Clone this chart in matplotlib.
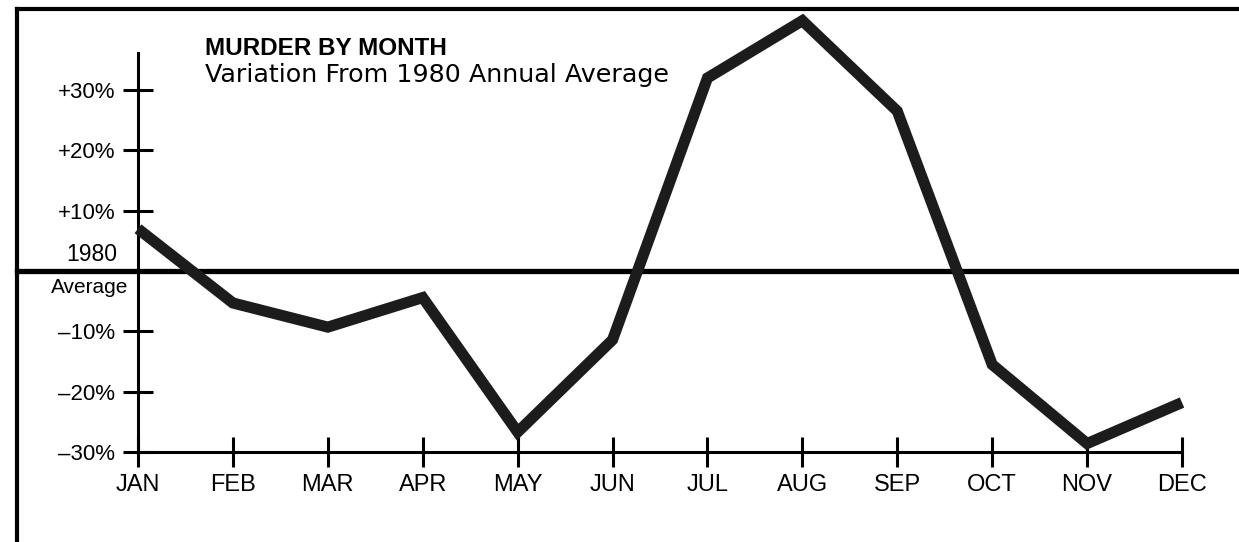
import matplotlib.pyplot as plt
from matplotlib.lines import Line2D

# data (% variation from 1980 annual average)
months = ['JAN', 'FEB', 'MAR', 'APR', 'MAY', 'JUN', 'JUL', 'AUG', 'SEP', 'OCT', 'NOV', 'DEC']
variation = [7, -5.3, -9.3, -4.4, -26.7, -11.4, 32, 41.5, 26.5, -15.5, -28.6, -21.8]
ytick_values = [-30, -20, -10, 10, 20, 30]
ytick_labels = ['\u201330%', '\u201320%', '\u201310%', '+10%', '+20%', '+30%']

plt.rcParams['font.family'] = ['Liberation Sans', 'DejaVu Sans']

fig = plt.figure(figsize=(12.39, 5.42), dpi=100)
ax = fig.add_axes([0.11138, 0.16605, 0.84262, 0.73616])
ax.set_xlim(0, len(months) - 1)
ax.set_ylim(-30, 36.14)
ax.patch.set_alpha(0)

for s in ['top', 'right']:
    ax.spines[s].set_visible(False)
for s in ['left', 'bottom']:
    ax.spines[s].set_linewidth(2.2)
    ax.spines[s].set_capstyle('projecting')

ax.set_xticks(range(len(months)))
ax.set_xticklabels(months, fontsize=17)
ax.set_yticks(ytick_values)
ax.set_yticklabels(ytick_labels, fontsize=16)
ax.tick_params(axis='both', direction='inout', length=21, width=2.2)
ax.tick_params(axis='y', pad=6)
ax.tick_params(axis='x', pad=5)

# 1980 average line
ax.axhline(0, xmin=-0.1159, xmax=1.06, color='black', lw=3.8, clip_on=False, zorder=2)
ax.text(-0.02, 0.8, '1980', transform=ax.get_yaxis_transform(), ha='right', va='bottom',
        fontsize=16.5)
ax.text(-0.0096, -1.2, 'Average', transform=ax.get_yaxis_transform(), ha='right', va='top',
        fontsize=15)

ax.plot(range(len(months)), variation, color='#1c1c1c', lw=8, clip_on=False,
        solid_joinstyle='miter', solid_capstyle='butt', zorder=3)

# title
fig.text(0.1655, 0.8985, 'MURDER BY MONTH', fontsize=17.5, fontweight='bold', va='baseline')
fig.text(0.1655, 0.8487, 'Variation From 1980 Annual Average', fontsize=18.3,
         family='DejaVu Sans', va='baseline')

# frame
fig.add_artist(Line2D([0.0137, 1.0], [0.9834, 0.9834], color='black', lw=3))
fig.add_artist(Line2D([0.0137, 0.0137], [0.0, 0.9834], color='black', lw=3))

fig.savefig('out.png', dpi=100)
